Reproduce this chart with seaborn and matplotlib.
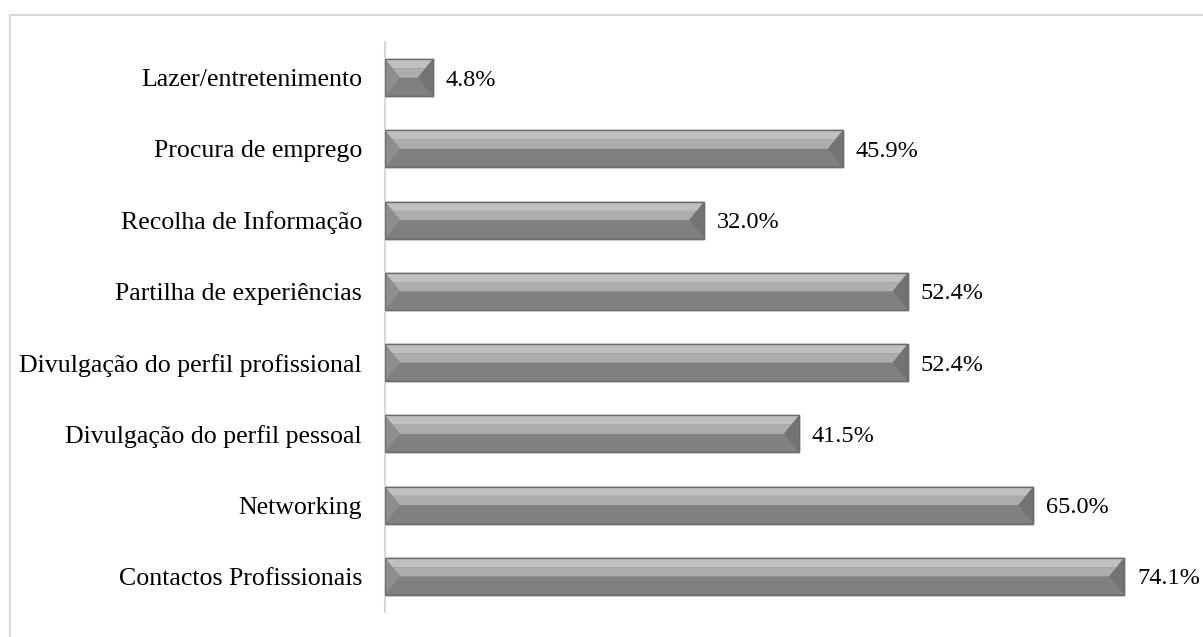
import matplotlib
matplotlib.use("Agg")
import matplotlib.pyplot as plt
import seaborn as sns
import pandas as pd
from matplotlib.patches import Polygon, Rectangle

categories = [
    "Lazer/entretenimento",
    "Procura de emprego",
    "Recolha de Informação",
    "Partilha de experiências",
    "Divulgação do perfil profissional",
    "Divulgação do perfil pessoal",
    "Networking",
    "Contactos Profissionais",
]
values = [4.8, 45.9, 32.0, 52.4, 52.4, 41.5, 65.0, 74.1]

df = pd.DataFrame({"cat": categories, "val": values})

sns.set_theme(style="white")
plt.rcParams["font.family"] = ["Liberation Serif", "DejaVu Serif"]

fig = plt.figure(figsize=(12.03, 6.37), dpi=100)
ax = fig.add_axes([385 / 1203, 1 - 612 / 637, (1183 - 385) / 1203, (612 - 42) / 637])

sns.barplot(data=df, y="cat", x="val", orient="h", color="#808080",
            saturation=1, width=0.52, edgecolor="#6c6c6c", linewidth=1.0, ax=ax)

ax.set_xlim(0, 80)
ax.set_ylim(7.5, -0.5)

# bevel overlay derived from each bar patch
d = 1.5
for p in ax.patches:
    x0, y0 = p.get_x(), p.get_y()
    w, h = p.get_width(), p.get_height()
    x1 = x0 + w
    top, bot = y0, y0 + h
    yc = y0 + h / 2
    dd = min(d, w / 2)
    ym = top + h * 0.25
    ax.add_patch(Polygon([(x0, top), (x1, top), (x1 - dd * 0.5, ym), (x0 + dd * 0.5, ym)],
                         closed=True, facecolor="#c0c0c0", edgecolor="none", zorder=3))
    ax.add_patch(Polygon([(x0 + dd * 0.5, ym), (x1 - dd * 0.5, ym), (x1 - dd, yc), (x0 + dd, yc)],
                         closed=True, facecolor="#adadad", edgecolor="none", zorder=3))
    ax.add_patch(Polygon([(x0, top), (x0 + dd, yc), (x0, bot)],
                         closed=True, facecolor="#8e8e8e", edgecolor="none", zorder=3))
    ax.add_patch(Polygon([(x1, top), (x1 - dd, yc), (x1, bot)],
                         closed=True, facecolor="#737373", edgecolor="none", zorder=3))
    ax.add_patch(Rectangle((x0, y0), w, h, facecolor="none", edgecolor="#6c6c6c",
                           linewidth=1.0, zorder=4))

for i, v in enumerate(values):
    ax.text(v + 1.3, i, f"{v:.1f}%", va="center_baseline", ha="left", fontsize=17.5,
            color="#000000")

ax.set_xlabel("")
ax.set_ylabel("")
ax.set_xticks([])
ax.tick_params(axis="y", length=0, pad=16.5, labelsize=18.6, labelcolor="#000000")
for lab in ax.get_yticklabels():
    lab.set_verticalalignment("center_baseline")
for s in ["top", "right", "bottom"]:
    ax.spines[s].set_visible(False)
ax.spines["left"].set_color("#d9d9d9")
ax.spines["left"].set_linewidth(1.5)

fig.patches.append(Rectangle((9.5 / 1203, -0.1), 1.2, 1.1 - 14.5 / 637,
                             transform=fig.transFigure, fill=False,
                             edgecolor="#d9d9d9", linewidth=1.5))

fig.savefig("out.png", dpi=100)
